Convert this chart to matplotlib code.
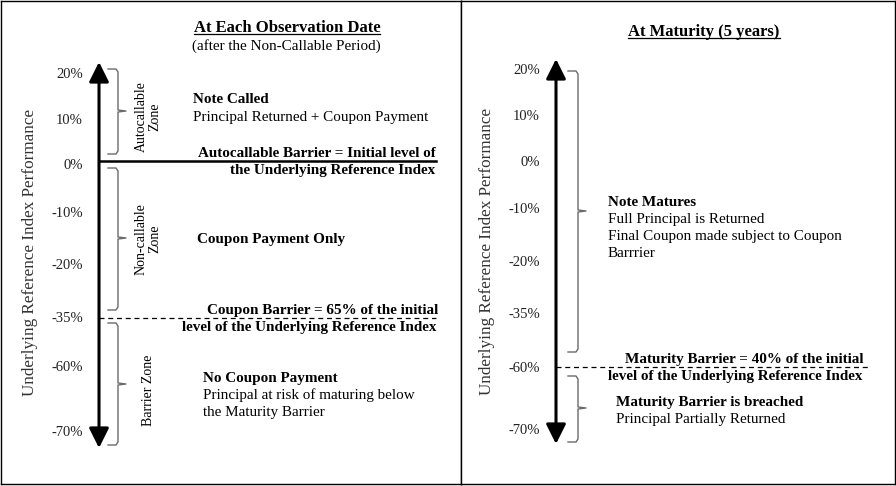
import matplotlib
matplotlib.use("Agg")
import matplotlib.pyplot as plt
from matplotlib.patches import FancyArrowPatch

plt.rcParams['font.family'] = ['Liberation Serif', 'DejaVu Serif']

# tick labels of the two performance scales
left_labels = ['20%', '10%', '0%', '-10%', '-20%', '-35%', '-60%', '-70%']
right_labels = ['20%', '10%', '0%', '-10%', '-20%', '-35%', '-60%', '-70%']
# rows (pixels from top) where each label sits
left_rows = [73, 119, 164, 212, 264, 317, 366, 431]
right_rows = [69, 115, 161, 208, 261, 313, 367, 429]

left_title = 'At Each Observation Date'
left_subtitle = '(after the Non-Callable Period)'
right_title = 'At Maturity (5 years)'
ylabel = 'Underlying Reference Index Performance'

left_zones = ['Autocallable\nZone', 'Non-callable\nZone', 'Barrier Zone']
right_outcomes = [('Note Matures', ['Full Principal is Returned',
                                    'Final Coupon made subject to Coupon',
                                    'Barrrier']),
                  ('Maturity Barrier is breached', ['Principal Partially Returned'])]

W, H = 896, 486
fig = plt.figure(figsize=(W / 100, H / 100), dpi=100)


def panel(x0, x1, y0=1, y1=484):
    ax = fig.add_axes([x0 / W, (H - y1) / H, (x1 - x0) / W, (y1 - y0) / H])
    ax.set_xlim(x0, x1)
    ax.set_ylim(y1, y0)
    ax.set_xticks([])
    for s in ax.spines.values():
        s.set_linewidth(1.0)
        s.set_color('black')
    return ax


def brace(ax, x, top, bottom, mid):
    grey = '#6a6a6a'
    ax.plot([x - 10, x - 2, x, x, x + 8, x, x, x - 2, x - 10],
            [top, top, top + 3, mid - 1, mid, mid + 1, bottom - 3, bottom, bottom],
            color=grey, lw=1.0, solid_joinstyle='round')


def vert_arrow(ax, x, top, bottom):
    arr = FancyArrowPatch((x, bottom), (x, top), arrowstyle='<|-|>,head_length=0.6,head_width=0.3',
                          mutation_scale=20, lw=2.2, color='black', shrinkA=0, shrinkB=0)
    ax.add_patch(arr)


def underlined(ax, x, y, s, size=12):
    t = ax.text(x, y, s, ha='center', va='center', fontsize=size, fontweight='bold')
    fig.canvas.draw()
    bb = t.get_window_extent().transformed(ax.transData.inverted())
    ax.plot([bb.x0, bb.x1], [max(bb.y0, bb.y1) - 1.5] * 2, color='black', lw=0.9)
    return t


body = 10.9

# ---------------- left panel ----------------
axl = panel(1, 461)
axl.set_yticks(left_rows, left_labels)
axl.tick_params(axis='y', length=0, pad=-82 * 0.72, labelsize=10.5, labelcolor='#222222')
vert_arrow(axl, 99, 62, 448)
axl.text(30, 252, ylabel, rotation=90, ha='center', va='center', fontsize=12.3, color='#333333')

underlined(axl, 287, 28, left_title)
axl.text(286, 46, left_subtitle, ha='center', va='center', fontsize=body)

brace(axl, 118, 69, 154, 111)
brace(axl, 118, 168, 310, 238)
brace(axl, 118, 323, 445, 384)
for zone, yc in zip(left_zones, [117, 239, 390]):
    axl.text(148, yc, zone, rotation=90, ha='center', va='center', fontsize=10,
             multialignment='center', linespacing=1.0)

axl.plot([99, 436], [161, 161], color='black', lw=1.8)
axl.plot([99, 436], [318, 318], color='black', lw=0.9, ls=(0, (4, 3)))

axl.text(193, 99, 'Note Called', fontsize=body, fontweight='bold', va='center')
axl.text(193, 117, 'Principal Returned + Coupon Payment', fontsize=body, va='center')
axl.text(436, 153, 'Autocallable Barrier = Initial level of', fontsize=body,
         fontweight='bold', ha='right', va='center')
axl.text(435, 170, 'the Underlying Reference Index', fontsize=body,
         fontweight='bold', ha='right', va='center')
axl.text(197, 239, 'Coupon Payment Only', fontsize=body, fontweight='bold', va='center')
axl.text(438, 310, 'Coupon Barrier = 65% of the initial', fontsize=body,
         fontweight='bold', ha='right', va='center')
axl.text(437, 327, 'level of the Underlying Reference Index', fontsize=body,
         fontweight='bold', ha='right', va='center')
axl.text(203, 378, 'No Coupon Payment', fontsize=body, fontweight='bold', va='center')
axl.text(203, 395, 'Principal at risk of maturing below', fontsize=body, va='center')
axl.text(203, 412, 'the Maturity Barrier', fontsize=body, va='center')

# ---------------- right panel ----------------
axr = panel(461, 895)
axr.set_yticks(right_rows, right_labels)
axr.tick_params(axis='y', length=0, pad=-79 * 0.72, labelsize=10.5, labelcolor='#222222')
vert_arrow(axr, 556, 59, 444)
axr.text(487, 251, ylabel, rotation=90, ha='center', va='center', fontsize=12.3, color='#333333')

underlined(axr, 704, 32, right_title)

brace(axr, 578, 71, 352, 211)
brace(axr, 578, 376, 442, 408)

axr.plot([556, 868], [367, 367], color='black', lw=0.9, ls=(0, (4, 3)))
axr.text(863, 359, 'Maturity Barrier = 40% of the initial', fontsize=body,
         fontweight='bold', ha='right', va='center')
axr.text(862, 376, 'level of the Underlying Reference Index', fontsize=body,
         fontweight='bold', ha='right', va='center')

for (head, lines), (x, y) in zip(right_outcomes, [(608, 202), (616, 402)]):
    axr.text(x, y, head, fontsize=body, fontweight='bold', va='center')
    for i, ln in enumerate(lines):
        axr.text(x, y + 17 * (i + 1), ln, fontsize=body, va='center')

fig.savefig('out.png', dpi=100)
